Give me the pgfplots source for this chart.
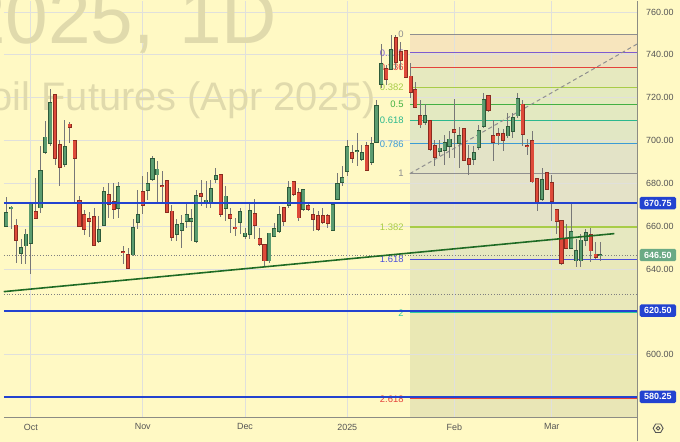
\documentclass[border=0pt]{standalone}
\usepackage{pgfplots}
\pgfplotsset{compat=1.18}
\usepackage{pgfplotstable}
\usepackage{fontspec}
\setmainfont{Liberation Sans}

\definecolor{bgc}{HTML}{FFF9C4}
\definecolor{gridc}{HTML}{E0E0DC}
\definecolor{wmc}{HTML}{E0DAAC}
\definecolor{wickc}{HTML}{777777}
\definecolor{upfill}{HTML}{5B9C70}
\definecolor{upedge}{HTML}{2E5B3A}
\definecolor{dnfill}{HTML}{DE4A3A}
\definecolor{dnedge}{HTML}{8A2C20}
\definecolor{bluel}{HTML}{2343D0}
\definecolor{trendc}{HTML}{1E6A24}
\definecolor{labelc}{HTML}{555555}
\definecolor{axisc}{HTML}{8C8C84}
\definecolor{lastc}{HTML}{6BAA85}
\definecolor{fgray}{HTML}{8F8F8F}
\definecolor{fpurple}{HTML}{7E5BD0}
\definecolor{fred}{HTML}{E5423C}
\definecolor{fyg}{HTML}{A8CC48}
\definecolor{fgreen}{HTML}{43B043}
\definecolor{fteal}{HTML}{2BB88E}
\definecolor{fblue}{HTML}{3C9AD6}
\definecolor{fviolet}{HTML}{4B4FDA}
\definecolor{fteal2}{HTML}{2ECCA0}
\definecolor{b1}{HTML}{F7E5BD}
\definecolor{b2}{HTML}{EDE0C0}
\definecolor{b3}{HTML}{E6E9BF}
\definecolor{b4}{HTML}{E4EABF}
\definecolor{b5}{HTML}{E3E9C1}
\definecolor{b6}{HTML}{E1E7C4}
\definecolor{b7}{HTML}{E3E3C7}
\definecolor{b8}{HTML}{E4E2C8}
\definecolor{b9}{HTML}{E6E8C0}
\definecolor{b10}{HTML}{E9E8BA}
\definecolor{b11}{HTML}{EAE8B4}
\definecolor{b12}{HTML}{E9E6B6}

\pgfplotstableread{
i O H L C
0 659.9 673.4 659.4 666.3
1 668.4 669.3 658.5 668.8
3 647.5 653.9 642.3 650.0
4 650.8 658.5 642.3 656.2
5 651.9 671.5 637.6 671.2
7 668.6 697.2 666.3 686.0
8 694.6 709.1 693.8 701.5
9 698.8 723.9 697.6 717.6
12 689.0 709.7 687.6 697.0
19 653.1 664.7 652.3 658.5
20 660.5 678.3 660.0 676.0
23 668.3 680.5 663.9 678.6
26 646.6 663.5 646.1 659.3
27 661.6 677.0 658.5 665.4
29 676.6 685.5 672.4 679.9
30 681.7 692.9 681.0 691.4
31 684.0 690.3 671.2 686.6
35 656.2 663.2 653.1 660.5
36 658.2 665.0 649.6 661.3
37 662.4 670.6 659.3 665.4
38 662.4 667.8 653.1 663.5
39 652.8 677.0 652.3 674.3
41 671.0 681.0 668.6 672.1
42 670.9 681.7 668.6 677.6
43 681.7 687.2 680.2 683.7
45 668.3 678.6 662.4 674.0
48 661.6 668.6 656.2 666.7
49 655.1 659.3 653.9 656.7
50 656.2 670.9 653.9 667.3
54 643.8 656.7 643.0 656.7
55 655.1 661.6 654.7 658.6
56 657.7 669.3 657.0 665.5
58 669.7 681.0 668.6 677.9
61 667.8 677.5 667.0 677.2
67 658.2 671.0 657.7 670.1
68 672.4 684.9 672.4 679.9
69 680.5 687.9 678.6 682.8
70 685.6 700.3 683.3 697.0
72 694.8 703.4 687.9 695.2
73 691.4 698.0 690.3 694.1
75 689.8 701.8 688.7 698.3
76 699.1 718.9 698.8 716.3
77 726.3 745.2 724.3 735.9
79 733.2 749.1 732.8 742.4
86 708.4 717.0 707.3 711.5
89 694.9 700.3 692.6 696.4
90 695.4 702.6 688.7 699.1
91 697.2 704.2 691.8 700.6
93 698.5 706.5 687.2 702.2
96 691.4 697.2 688.7 694.1
97 696.8 707.3 695.7 704.5
98 706.5 722.3 705.7 718.9
103 702.2 712.7 701.1 706.5
104 704.2 712.7 701.0 710.8
105 711.5 722.0 710.4 719.3
110 672.4 687.0 671.7 681.6
116 649.6 670.1 649.3 657.5
117 643.8 653.9 641.0 648.5
118 643.8 656.2 641.0 653.4
119 653.4 658.5 650.8 657.0
122 646.3 652.6 643.8 646.7
}\upc

\pgfplotstableread{
i O H L C
2 660.4 663.5 643.0 653.5
6 666.7 682.5 663.2 663.6
10 721.5 721.5 688.7 691.8
11 698.0 700.3 678.6 687.6
13 707.6 708.8 698.8 706.0
14 699.9 699.9 670.6 691.8
15 671.7 674.0 660.0 660.0
16 665.5 667.5 655.7 658.5
17 663.5 666.6 654.7 662.4
18 664.2 668.6 650.8 651.0
21 674.8 680.2 663.9 670.1
22 671.2 680.2 663.5 667.8
24 648.2 650.8 642.3 647.8
25 646.6 650.0 640.2 640.2
28 676.0 683.2 665.5 669.8
32 678.8 685.6 671.2 678.4
33 681.4 681.4 666.6 666.6
34 667.0 670.1 653.1 654.7
40 675.1 681.6 669.3 674.0
44 684.0 684.0 664.5 665.5
46 665.5 668.6 657.0 663.5
47 659.5 664.0 655.4 659.1
51 666.0 672.8 654.2 660.5
52 654.3 659.0 650.8 651.5
53 651.5 651.5 640.7 643.8
57 668.6 669.0 660.0 662.4
59 680.7 681.0 674.0 674.8
60 675.6 677.9 662.4 663.9
62 669.7 671.0 667.0 667.8
63 665.5 668.6 657.7 663.2
64 664.9 667.0 657.7 658.5
65 664.7 668.6 661.0 661.9
66 664.7 665.5 659.0 661.3
71 694.4 698.0 689.5 691.8
74 697.5 699.5 685.6 685.9
78 733.6 735.2 725.9 728.5
80 748.0 749.4 733.6 736.7
81 741.3 746.0 732.8 737.5
82 741.8 742.1 729.3 729.7
83 730.0 736.0 719.7 722.7
84 723.9 727.4 715.0 715.5
85 711.5 718.9 705.7 707.3
87 709.1 709.5 695.0 695.7
88 697.5 700.3 688.2 692.3
92 705.0 719.3 691.8 704.0
94 705.3 705.8 690.2 690.6
95 691.4 698.0 684.0 688.7
99 720.8 721.3 713.5 713.9
100 702.2 709.7 690.3 699.1
101 703.1 706.0 698.0 702.2
102 703.1 705.5 695.0 700.0
106 716.9 718.9 697.2 703.0
107 697.7 700.9 693.3 697.3
108 699.9 704.5 680.2 680.7
109 682.0 682.0 667.0 670.4
111 684.8 685.0 677.0 677.4
112 680.2 684.0 662.4 671.4
113 667.5 667.8 656.2 662.1
114 662.7 663.0 642.0 642.6
115 654.3 660.8 649.3 649.6
120 655.9 659.0 643.3 648.5
121 646.9 652.6 644.6 645.4
}\dnc

\pgfplotsset{
  wick/.style={forget plot, draw=none, mark=none,
    error bars/.cd, y dir=both, y explicit, error mark=none,
    error bar style={draw=wickc, line width=1pt, solid}},
  bodyedge/.style={forget plot, draw=none, mark=none,
    error bars/.cd, y dir=both, y explicit, error mark=none,
    error bar style={draw=#1, line width=4.1pt, solid}},
  bodyfill/.style={forget plot, draw=none, mark=none,
    error bars/.cd, y dir=both, y explicit, error mark=none,
    error bar style={draw=#1, line width=2.6pt, solid}},
  band/.style={forget plot, draw=none, fill=#1, on layer=axis background},
  fibline/.style={forget plot, draw=#1, line width=1pt},
}
\tikzset{
  fiblab/.style={anchor=east, inner sep=0pt, text=#1, font=\fontsize{9.5}{10}\selectfont},
  pbox/.style={anchor=west, xshift=1.8pt, fill=#1, text=white, inner xsep=4.5pt,
    inner ysep=0pt, minimum height=12.5pt, rounded corners=1.5pt,
    font=\bfseries\fontsize{9}{10}\selectfont},
}

\begin{document}
\pagecolor{bgc}
\begin{tikzpicture}
\path (0pt,0pt) rectangle (680pt,443pt);
\node[overlay, anchor=base east, text=wmc, font=\fontsize{77}{77}\selectfont, inner sep=0pt] at (152pt,400pt) {2025,};
\node[overlay, anchor=base east, text=wmc, font=\fontsize{77}{77}\selectfont, inner sep=0pt] at (275pt,400pt) {1D};
\node[overlay, anchor=base east, text=wmc, font=\fontsize{40}{40}\selectfont, inner sep=0pt] at (374pt,333pt) {oil Futures (Apr 2025)};
\begin{axis}[
  set layers,
  at={(0pt,24pt)}, anchor=south west,
  width=637.5pt, height=419pt, scale only axis,
  xmin=-0.55, xmax=129.66, ymin=570.7, ymax=765.3,
  clip=false,
  axis line style={draw=none},
  major tick length=0pt,
  xtick={5,28,49,70,92,112},
  xticklabels={Oct,Nov,Dec,2025,Feb,Mar},
  ytick={580,600,...,760},
  yticklabels={,600.00,,640.00,660.00,680.00,700.00,720.00,740.00,760.00},
  yticklabel pos=right,
  yticklabel style={anchor=west, xshift=5pt},
  xticklabel style={yshift=-3pt},
  ticklabel style={font=\fontsize{9}{10}\selectfont, text=labelc},
  grid=major, grid style={draw=gridc, line width=0.8pt},
]
% Fibonacci bands
\addplot[band=b1] coordinates {(82.84,749.5) (129.66,749.5) (129.66,740.9) (82.84,740.9)} -- cycle;
\addplot[band=b2] coordinates {(82.84,740.9) (129.66,740.9) (129.66,734.2) (82.84,734.2)} -- cycle;
\addplot[band=b3] coordinates {(82.84,734.2) (129.66,734.2) (129.66,724.7) (82.84,724.7)} -- cycle;
\addplot[band=b4] coordinates {(82.84,724.7) (129.66,724.7) (129.66,717.0) (82.84,717.0)} -- cycle;
\addplot[band=b5] coordinates {(82.84,717.0) (129.66,717.0) (129.66,709.3) (82.84,709.3)} -- cycle;
\addplot[band=b6] coordinates {(82.84,709.3) (129.66,709.3) (129.66,698.4) (82.84,698.4)} -- cycle;
\addplot[band=b7] coordinates {(82.84,698.4) (129.66,698.4) (129.66,684.5) (82.84,684.5)} -- cycle;
\addplot[band=b8] coordinates {(82.84,684.5) (129.66,684.5) (129.66,659.7) (82.84,659.7)} -- cycle;
\addplot[band=b9] coordinates {(82.84,659.7) (129.66,659.7) (129.66,644.3) (82.84,644.3)} -- cycle;
\addplot[band=b10] coordinates {(82.84,644.3) (129.66,644.3) (129.66,619.5) (82.84,619.5)} -- cycle;
\addplot[band=b11] coordinates {(82.84,619.5) (129.66,619.5) (129.66,579.3) (82.84,579.3)} -- cycle;
\addplot[band=b12] coordinates {(82.84,579.3) (129.66,579.3) (129.66,570.7) (82.84,570.7)} -- cycle;
% Fibonacci lines
\addplot[fibline=fgray] coordinates {(82.84,749.5) (129.66,749.5)};
\addplot[fibline=fpurple] coordinates {(82.84,740.9) (129.66,740.9)};
\addplot[fibline=fred] coordinates {(82.84,734.2) (129.66,734.2)};
\addplot[fibline=fyg, line width=1.8pt] coordinates {(82.84,724.7) (129.66,724.7)};
\addplot[fibline=fgreen] coordinates {(82.84,717.0) (129.66,717.0)};
\addplot[fibline=fteal] coordinates {(82.84,709.3) (129.66,709.3)};
\addplot[fibline=fblue] coordinates {(82.84,698.4) (129.66,698.4)};
\addplot[fibline=fgray, line width=1.3pt] coordinates {(82.84,684.5) (129.66,684.5)};
\addplot[fibline=fyg, line width=1.6pt] coordinates {(82.84,659.7) (129.66,659.7)};
\addplot[fibline=fviolet] coordinates {(82.84,644.3) (129.66,644.3)};
\addplot[fibline=fteal2] coordinates {(82.84,619.5) (129.66,619.5)};
\addplot[fibline=fred] coordinates {(82.84,579.3) (129.66,579.3)};
\addplot[forget plot, draw=fgray, line width=1pt, dash pattern=on 4pt off 3pt] coordinates {(82.84,684.5) (129.66,745.2)};
% Fib labels
\node[fiblab=fgray] at (axis cs:81.6,749.5) {0};
\node[fiblab=fpurple] at (axis cs:81.6,740.9) {0.125};
\node[fiblab=fred] at (axis cs:81.6,734.2) {0.236};
\node[fiblab=fyg] at (axis cs:81.6,724.7) {0.382};
\node[fiblab=fgreen] at (axis cs:81.6,717.0) {0.5};
\node[fiblab=fteal] at (axis cs:81.6,709.3) {0.618};
\node[fiblab=fblue] at (axis cs:81.6,698.4) {0.786};
\node[fiblab=fgray] at (axis cs:81.6,684.5) {1};
\node[fiblab=fyg] at (axis cs:81.6,659.7) {1.382};
\node[fiblab=fviolet] at (axis cs:81.6,644.3) {1.618};
\node[fiblab=fteal2] at (axis cs:81.6,619.5) {2};
\node[fiblab=fred] at (axis cs:81.6,579.3) {2.618};
% dotted lines
\addplot[forget plot, draw=gray, line width=0.8pt, dotted] coordinates {(-0.55,628.3) (129.66,628.3)};
\addplot[forget plot, draw=gray, line width=0.8pt, dotted] coordinates {(-0.55,646.5) (129.66,646.5)};
% candles: wicks
\addplot[wick] table[x=i, y expr={(\thisrow{H}+\thisrow{L})/2}, y error expr={(\thisrow{H}-\thisrow{L})/2}] {\upc};
\addplot[wick] table[x=i, y expr={(\thisrow{H}+\thisrow{L})/2}, y error expr={(\thisrow{H}-\thisrow{L})/2}] {\dnc};
% bodies
\addplot[bodyedge=upedge] table[x=i, y expr={(\thisrow{O}+\thisrow{C})/2}, y error expr={abs(\thisrow{C}-\thisrow{O})/2+0.3}] {\upc};
\addplot[bodyfill=upfill] table[x=i, y expr={(\thisrow{O}+\thisrow{C})/2}, y error expr={max(abs(\thisrow{C}-\thisrow{O})/2-0.1,0.02)}] {\upc};
\addplot[bodyedge=dnedge] table[x=i, y expr={(\thisrow{O}+\thisrow{C})/2}, y error expr={abs(\thisrow{C}-\thisrow{O})/2+0.3}] {\dnc};
\addplot[bodyfill=dnfill] table[x=i, y expr={(\thisrow{O}+\thisrow{C})/2}, y error expr={max(abs(\thisrow{C}-\thisrow{O})/2-0.1,0.02)}] {\dnc};
% horizontal levels
\addplot[forget plot, draw=bluel, line width=2pt] coordinates {(-0.55,670.75) (129.66,670.75)};
\addplot[forget plot, draw=bluel, line width=2pt] coordinates {(-0.55,620.5) (129.66,620.5)};
\addplot[forget plot, draw=bluel, line width=2pt] coordinates {(-0.55,580.25) (129.66,580.25)};
% trend line
\addplot[forget plot, draw=trendc, line width=1.6pt] coordinates {(-0.55,629.4) (124.86,656.5)};
% price boxes
\node[pbox=bluel] at (axis cs:129.66,670.75) {670.75};
\node[pbox=lastc] at (axis cs:129.66,646.5) {646.50};
\node[pbox=bluel] at (axis cs:129.66,620.5) {620.50};
\node[pbox=bluel] at (axis cs:129.66,580.25) {580.25};
\end{axis}
\draw[axisc, line width=1.3pt] (637.5pt,0pt) -- (637.5pt,443pt);
\draw[axisc, line width=1pt] (0pt,24pt) -- (637.5pt,24pt);
\draw[labelc, line width=0.9pt] (658pt,13pt) circle (1.8pt);
\draw[labelc, line width=0.9pt] (663pt,13pt) -- (660.5pt,17.3pt) -- (655.5pt,17.3pt) -- (653pt,13pt) -- (655.5pt,8.7pt) -- (660.5pt,8.7pt) -- cycle;
\end{tikzpicture}
\end{document}
